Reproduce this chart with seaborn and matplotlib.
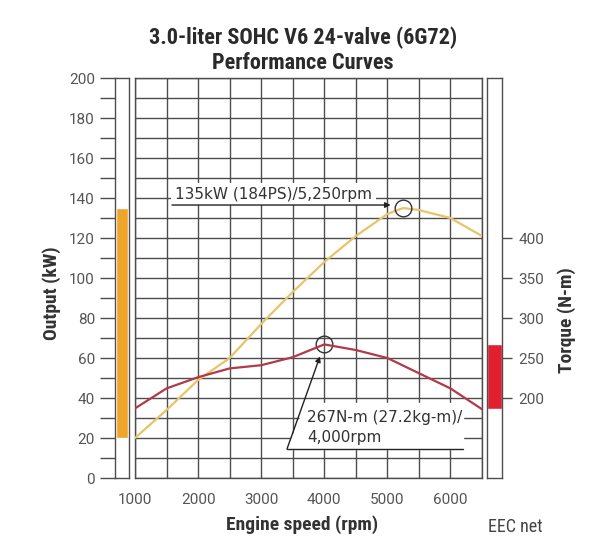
import numpy as np
import matplotlib
matplotlib.use("Agg")
import matplotlib.pyplot as plt
import seaborn as sns

# power curve (kW) and torque curve (N-m)
power_rpm = [1000, 1500, 2000, 2500, 3000, 3500, 4000, 4500, 5000, 5250, 5500, 6000, 6500]
power_kw = [20, 34, 49, 60, 77, 93, 108, 121, 132, 135, 134, 130, 121]
torque_rpm = [1000, 1500, 2000, 2500, 3000, 3500, 4000, 4500, 5000, 5500, 6000, 6500]
torque_nm = [187, 212, 226, 237, 241, 251, 267, 260, 250, 231, 212, 186]

x_ticks = [1000, 2000, 3000, 4000, 5000, 6000]
kw_ticks = list(range(0, 201, 20))
nm_ticks = [200, 250, 300, 350, 400]

power_note = "135kW (184PS)/5,250rpm"
torque_note1 = "267N-m (27.2kg-m)/"
torque_note2 = "4,000rpm"

GRID = "#4d4d4d"
TXT = "#555555"
YELLOW = "#e6c46a"
MAROON = "#b23a48"
ORANGE = "#f0a428"
RED = "#e0202e"

sns.set_style("white")
plt.rcParams["font.family"] = ["DejaVu Sans"]
NARROW = ["Roboto Condensed", "Liberation Sans"]
TICKF = ["Roboto", "DejaVu Sans"]

fig = plt.figure(figsize=(6, 5.43), dpi=100)
ax = fig.add_axes([0.225, 0.1197, 0.5783, 0.7366])
ax2 = ax.twinx()
left_bar = fig.add_axes([0.1917, 0.1197, 0.0233, 0.7366])
right_bar = fig.add_axes([0.8117, 0.1197, 0.025, 0.7366])

# main grid
ax.set_xlim(1000, 6500)
ax.set_ylim(0, 200)
ax.set_xticks(range(1000, 6501, 500))
ax.set_xticklabels([str(v) if v in x_ticks else "" for v in range(1000, 6501, 500)],
                   color=TXT, fontsize=11, family=TICKF)
ax.set_yticks(range(0, 201, 10))
ax.set_yticklabels([])
ax.tick_params(length=0, pad=11)
ax.grid(True, color=GRID, linewidth=1.0)
for s in ax.spines.values():
    s.set_edgecolor(GRID)
    s.set_linewidth(1.0)

sns.lineplot(x=power_rpm, y=power_kw, ax=ax, color=YELLOW, linewidth=1.6, zorder=4)

ax2.set_ylim(100, 600)  # 0..200 kW  <->  100..600 N-m
ax2.set_yticks([])
for s in ax2.spines.values():
    s.set_visible(False)
sns.lineplot(x=torque_rpm, y=torque_nm, ax=ax2, color=MAROON, linewidth=1.6, zorder=4)

# peak markers
pi = int(np.argmax(power_kw))
p_rpm, p_kw = power_rpm[pi], power_kw[pi]
ti = int(np.argmax(torque_nm))
t_rpm, t_nm = torque_rpm[ti], torque_nm[ti]
t_kw = 0.4 * t_nm - 40
ax.plot(p_rpm, p_kw, marker="o", ms=12, mfc="none", mec="#333333", mew=1.0, zorder=6)
ax.plot(t_rpm, t_kw, marker="o", ms=12, mfc="none", mec="#333333", mew=1.0, zorder=6)

# power note
ax.text(1634, p_kw + 7, power_note, fontsize=11, color="#333333", va="center", ha="left",
        bbox=dict(fc="white", ec="none", pad=2.5), zorder=5)
ax.annotate("", xy=(p_rpm, p_kw + 1.5), xytext=(1586, p_kw + 1.5),
            arrowprops=dict(arrowstyle="-|>", color="#222222", lw=1.0, shrinkA=0, shrinkB=9,
                            mutation_scale=8), zorder=6)

# torque note
ax.fill([3409, 6199, 6199, 3714], [14.5, 14.5, 37.5, 37.5], color="white", zorder=3)
ax.plot([3409, 6199], [14.5, 14.5], color="#222222", lw=1.0, zorder=5)
ax.annotate("", xy=(t_rpm - 68, t_kw - 6), xytext=(3409, 14.5),
            arrowprops=dict(arrowstyle="-|>", color="#222222", lw=1.0, shrinkA=0, shrinkB=0,
                            mutation_scale=8), zorder=6)
ax.text(3726, 30.5, torque_note1, fontsize=11, color="#333333", va="center", ha="left", zorder=5)
ax.text(3726, 20.5, torque_note2, fontsize=11, color="#333333", va="center", ha="left", zorder=5)

# left bar: power range
left_bar.set_xlim(0, 1)
left_bar.set_ylim(0, 200)
left_bar.bar(0.5, max(power_kw) - min(power_kw), bottom=min(power_kw), width=0.8, color=ORANGE)
left_bar.set_xticks([])
left_bar.set_yticks(range(0, 201, 10))
left_bar.set_yticklabels([str(v) if v in kw_ticks else "" for v in range(0, 201, 10)],
                         color=TXT, fontsize=11, family=TICKF)
left_bar.tick_params(axis="y", left=True, length=11, width=1.0, color=GRID, pad=3.5)
for s in left_bar.spines.values():
    s.set_edgecolor(GRID)
    s.set_linewidth(1.0)

# right bar: torque range
right_bar.set_xlim(0, 1)
right_bar.set_ylim(100, 600)
right_bar.bar(0.5, max(torque_nm) - min(torque_nm), bottom=min(torque_nm), width=1.0, color=RED)
right_bar.set_xticks([])
right_bar.yaxis.tick_right()
right_bar.set_yticks(nm_ticks)
right_bar.set_yticklabels([str(v) for v in nm_ticks], color=TXT, fontsize=11, family=TICKF)
right_bar.tick_params(axis="y", right=True, left=False, length=7, width=1.0, color=GRID, pad=5)
for s in right_bar.spines.values():
    s.set_edgecolor(GRID)
    s.set_linewidth(1.0)

# titles and labels
fig.text(0.505, 1 - 38 / 543, "3.0-liter SOHC V6 24-valve (6G72)", ha="center", va="center",
         fontsize=16, fontweight="bold", color="#2a2a2a", family=NARROW)
fig.text(0.505, 1 - 63 / 543, "Performance Curves", ha="center", va="center",
         fontsize=16, fontweight="bold", color="#2a2a2a", family=NARROW)
fig.text(52 / 600, 1 - 293 / 543, "Output (kW)", rotation=90, ha="center", va="center",
         fontsize=14, fontweight="bold", color="#333333", family=NARROW)
fig.text(567 / 600, 1 - 320 / 543, "Torque (N-m)", rotation=90, ha="center", va="center",
         fontsize=14, fontweight="bold", color="#333333", family=NARROW)
fig.text(302 / 600, 1 - 525 / 543, "Engine speed (rpm)", ha="center", va="center",
         fontsize=14, fontweight="bold", color="#333333", family=NARROW)
fig.text(488 / 600, 1 - 527 / 543, "EEC net", ha="left", va="center",
         fontsize=13, color="#444444", family=NARROW)

fig.savefig("out.png", dpi=100, facecolor="white")
